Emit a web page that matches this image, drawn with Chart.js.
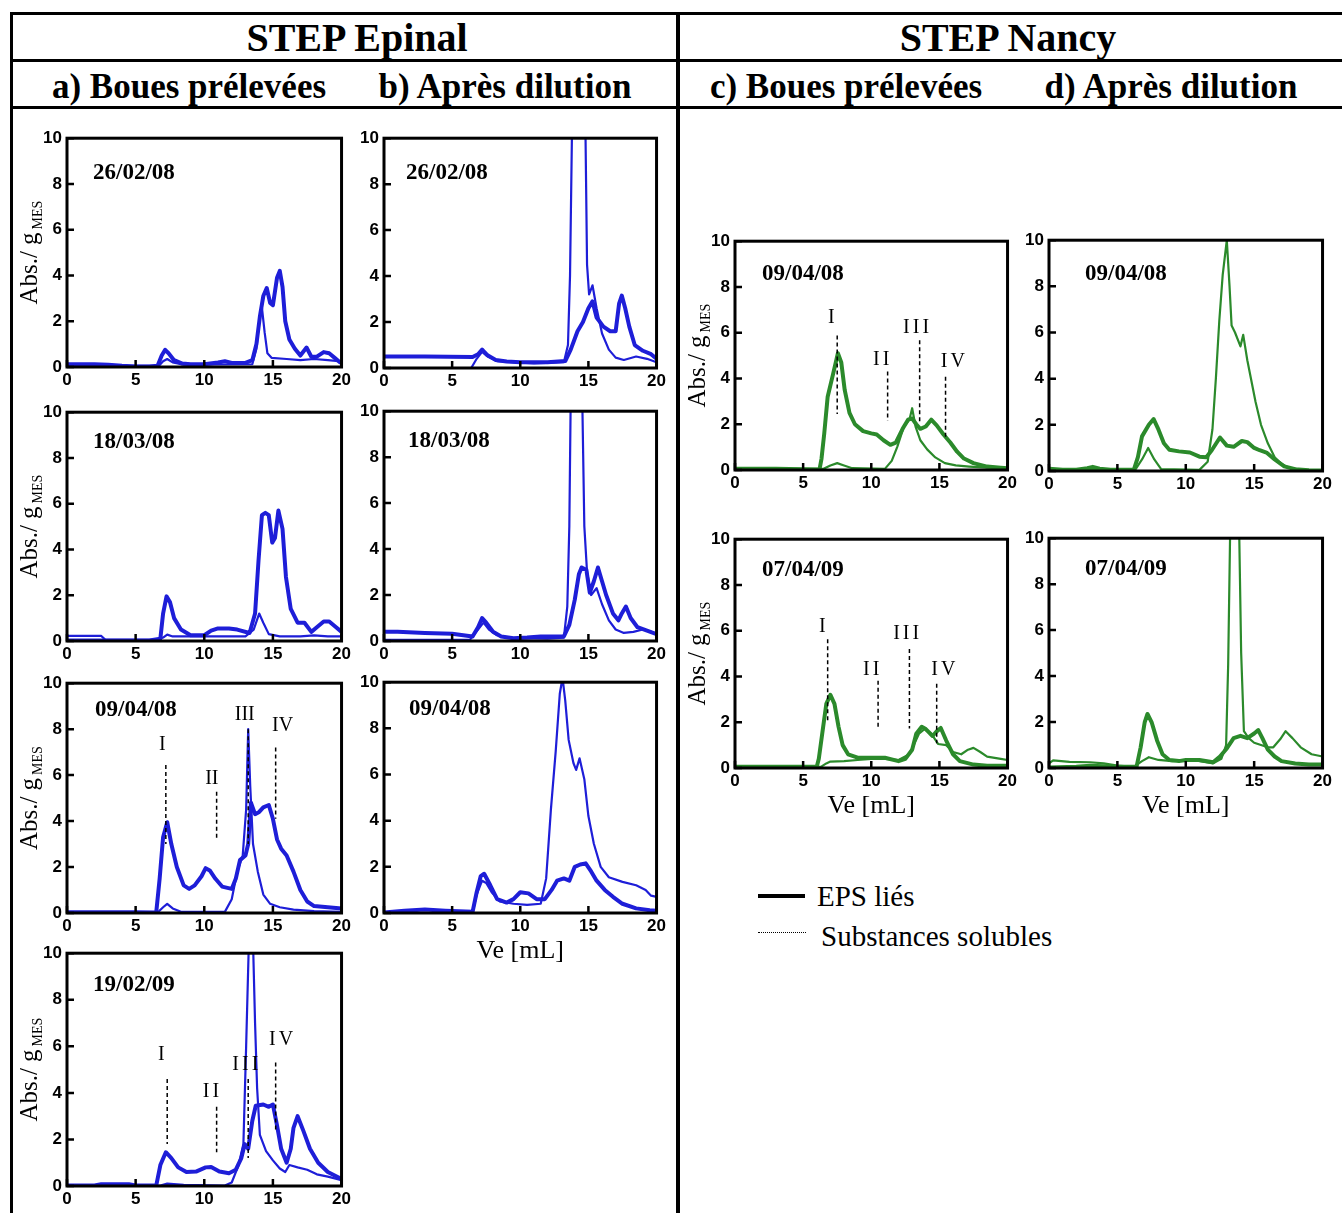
<!DOCTYPE html>
<html>
<head>
<meta charset="utf-8">
<script src="https://cdn.jsdelivr.net/npm/chart.js@4.4.1/dist/chart.umd.min.js"></script>
<style>
  body { margin:0; background:#fff; width:1342px; height:1213px; position:relative; overflow:hidden;
         font-family:'Liberation Serif','Times New Roman',serif; color:#000; }
  .rule { position:absolute; background:#000; }
  .hdr { position:absolute; font-weight:bold; white-space:nowrap; line-height:1; transform:translateX(-50%); }
  .panel { position:absolute; }
  .leg { position:absolute; font-size:29px; line-height:1; white-space:nowrap; }
</style>
</head>
<body>
<div class="rule" style="left:10px;top:12px;width:1332px;height:3px"></div>
<div class="rule" style="left:10px;top:59px;width:1332px;height:3px"></div>
<div class="rule" style="left:10px;top:106px;width:1332px;height:3px"></div>
<div class="rule" style="left:10px;top:12px;width:3px;height:1201px"></div>
<div class="rule" style="left:676px;top:12px;width:4px;height:1201px"></div>

<div class="hdr" style="left:357px;top:18px;font-size:40px">STEP Epinal</div>
<div class="hdr" style="left:1008px;top:18px;font-size:40px">STEP Nancy</div>
<div class="hdr" style="left:189px;top:69px;font-size:35px">a) Boues prélevées</div>
<div class="hdr" style="left:505px;top:69px;font-size:35px">b) Après dilution</div>
<div class="hdr" style="left:846px;top:69px;font-size:35px">c) Boues prélevées</div>
<div class="hdr" style="left:1171px;top:69px;font-size:35px">d) Après dilution</div>

<div class="rule" style="left:758px;top:894px;width:47px;height:4px"></div>
<div class="leg" style="left:817px;top:882px">EPS liés</div>
<div style="position:absolute;left:758px;top:932px;width:48px;border-top:1px dotted #000"></div>
<div class="leg" style="left:821px;top:922px">Substances solubles</div>

<div id="charts"></div>

<script>
// axis ticks
const veTicks = [0, 5, 10, 15, 20];
const absTicks = [0, 2, 4, 6, 8, 10];
const seriesNames = ['EPS liés', 'Substances solubles'];

// STEP Epinal - boues prélevées  [Ve mL, Abs/gMES]
const epiA1Eps = [[0,0.12],[1,0.12],[2,0.12],[3,0.1],[4,0.05],[5,0.02],[6,0.02],[6.6,0.05],[6.9,0.5],[7.15,0.75],[7.4,0.6],[7.8,0.3],[8.4,0.15],[9,0.12],[10,0.12],[11,0.2],[11.5,0.25],[12,0.18],[13,0.18],[13.5,0.3],[13.8,1.0],[14.05,2.2],[14.3,3.1],[14.55,3.45],[14.8,2.8],[15.0,2.7],[15.3,3.9],[15.5,4.2],[15.7,3.5],[15.9,2.0],[16.2,1.2],[16.6,0.8],[17.0,0.5],[17.45,0.85],[17.8,0.45],[18.2,0.45],[18.7,0.65],[19.1,0.6],[19.5,0.4],[19.9,0.2],[20,0.2]];
const epiA1Sol = [[0,0.05],[6.7,0.05],[7.0,0.25],[7.3,0.35],[7.7,0.2],[8.5,0.1],[13.5,0.12],[13.8,0.8],[14.0,2.0],[14.2,2.6],[14.4,1.5],[14.6,0.6],[14.9,0.4],[16,0.35],[17,0.3],[18,0.35],[19,0.3],[20,0.25]];
const epiA2Eps = [[0,0.02],[3,0.02],[6,0.02],[6.8,0.1],[7.0,1.2],[7.25,1.95],[7.5,1.7],[7.8,1.0],[8.3,0.5],[9,0.25],[10,0.25],[10.5,0.45],[11,0.55],[11.8,0.55],[12.4,0.5],[13.3,0.35],[13.7,1.2],[13.95,3.5],[14.2,5.5],[14.45,5.6],[14.7,5.5],[14.95,4.3],[15.15,4.5],[15.4,5.7],[15.7,4.9],[15.95,2.8],[16.3,1.4],[16.8,0.8],[17.3,0.8],[17.8,0.4],[18.2,0.6],[18.7,0.85],[19.1,0.85],[19.6,0.6],[20,0.4]];
const epiA2Sol = [[0,0.22],[2.5,0.22],[2.8,0.05],[6.6,0.05],[7.0,0.15],[7.3,0.28],[7.7,0.2],[9,0.2],[13,0.2],[13.6,0.5],[14.0,1.2],[14.3,0.8],[14.7,0.3],[15.5,0.2],[17,0.2],[18,0.25],[19,0.2],[20,0.2]];
const epiA3Eps = [[0,0.03],[3,0.03],[5,0.03],[6.5,0.02],[6.75,1.5],[7.0,3.3],[7.3,3.95],[7.6,3.0],[8.0,2.0],[8.5,1.2],[8.9,1.05],[9.3,1.2],[9.8,1.6],[10.1,1.95],[10.4,1.85],[10.8,1.5],[11.3,1.15],[12.0,1.05],[12.3,1.5],[12.6,2.3],[13.0,2.5],[13.2,3.0],[13.4,4.8],[13.7,4.3],[14.0,4.4],[14.3,4.6],[14.7,4.7],[15.0,4.1],[15.3,3.2],[15.6,2.8],[16.0,2.5],[16.5,1.8],[17.0,1.0],[17.5,0.5],[18,0.3],[19,0.25],[20,0.2]];
const epiA3Sol = [[0,0.02],[6.6,0.02],[7.0,0.25],[7.3,0.4],[7.7,0.2],[8.3,0.05],[11.5,0.05],[12.0,0.6],[12.4,1.8],[12.8,2.5],[13.05,4.5],[13.2,8.0],[13.35,5.5],[13.55,3.0],[13.9,1.8],[14.3,0.8],[14.8,0.4],[15.5,0.25],[16.5,0.15],[18,0.08],[20,0.05]];
const epiA4Eps = [[0,0.02],[2,0.02],[2.5,0.08],[4.5,0.08],[5,0.02],[6.5,0.02],[6.8,0.9],[7.2,1.45],[7.6,1.2],[8.1,0.8],[8.7,0.6],[9.4,0.62],[10.1,0.8],[10.5,0.82],[11.1,0.62],[11.8,0.55],[12.3,0.7],[12.7,1.2],[12.95,1.8],[13.2,1.6],[13.5,2.8],[13.75,3.45],[14.3,3.5],[14.7,3.4],[15.0,3.5],[15.3,2.6],[15.6,1.6],[16.0,1.0],[16.3,1.6],[16.5,2.5],[16.8,3.0],[17.2,2.4],[17.7,1.6],[18.3,1.0],[19,0.6],[20,0.3]];
const epiA4Sol = [[0,0.02],[6.8,0.02],[7.3,0.1],[8.5,0.05],[11.5,0.02],[12.0,0.15],[12.5,0.9],[12.85,1.8],[13.05,6],[13.25,10.5],[13.55,10.5],[13.7,7],[13.85,4.2],[14.05,2.2],[14.5,1.5],[15.0,1.1],[15.5,0.75],[15.9,0.6],[16.2,0.9],[16.8,0.8],[17.5,0.7],[18.2,0.5],[19,0.4],[20,0.25]];

// STEP Epinal - après dilution
const epiB1Eps = [[0,0.5],[3,0.5],[6.5,0.48],[6.9,0.6],[7.2,0.8],[7.6,0.55],[8.2,0.35],[9,0.28],[10,0.25],[12,0.25],[13.3,0.3],[13.7,0.8],[14.2,1.6],[14.6,2.0],[15.0,2.6],[15.3,2.9],[15.6,2.2],[16.1,1.8],[16.6,1.6],[17.0,1.6],[17.25,2.8],[17.45,3.15],[17.7,2.6],[18.0,1.8],[18.4,1.0],[19.0,0.75],[19.6,0.6],[20,0.4]];
const epiB1Sol = [[0,0.0],[6.4,0.0],[6.8,0.4],[7.2,0.7],[7.6,0.5],[8.3,0.3],[9.5,0.25],[11,0.2],[13.2,0.25],[13.5,1.0],[13.65,4],[13.8,10.5],[14.2,14],[14.6,12],[14.78,10.5],[14.9,4.5],[15.05,3.2],[15.3,3.6],[15.6,2.6],[16.0,1.5],[16.5,0.8],[17.0,0.45],[17.6,0.35],[18.5,0.5],[19.3,0.4],[20,0.25]];
const epiB2Eps = [[0,0.4],[1,0.4],[3,0.35],[5,0.32],[6.5,0.2],[6.9,0.6],[7.2,1.0],[7.5,0.8],[8.0,0.4],[8.6,0.2],[9.5,0.12],[10.5,0.15],[11.5,0.2],[13.2,0.2],[13.6,0.7],[14.0,1.8],[14.3,2.9],[14.5,3.2],[14.85,3.1],[15.1,2.1],[15.4,2.6],[15.7,3.2],[16.0,2.6],[16.3,2.0],[16.8,1.2],[17.2,0.9],[17.45,1.2],[17.75,1.5],[18.1,1.0],[18.6,0.6],[19.3,0.45],[20,0.3]];
const epiB2Sol = [[0,0.05],[6.3,0.05],[6.9,0.5],[7.3,0.8],[7.7,0.5],[8.3,0.25],[9.5,0.12],[12,0.1],[13.2,0.15],[13.45,1.5],[13.6,5],[13.7,10.5],[14.1,14],[14.55,10.5],[14.7,5],[14.9,3.0],[15.2,2.0],[15.6,2.3],[16.0,1.6],[16.5,0.9],[17.0,0.5],[17.6,0.35],[18.3,0.4],[19.0,0.5],[19.6,0.4],[20,0.3]];
const epiB3Eps = [[0,0.02],[1.5,0.1],[3,0.15],[4.5,0.1],[6.5,0.05],[6.8,0.9],[7.1,1.6],[7.35,1.7],[7.8,1.2],[8.3,0.6],[9.0,0.45],[9.5,0.6],[10.0,0.9],[10.6,0.85],[11.2,0.6],[11.8,0.6],[12.3,1.0],[12.7,1.4],[13.2,1.5],[13.6,1.4],[14.0,2.0],[14.4,2.1],[14.8,2.15],[15.2,1.8],[15.6,1.4],[16.2,1.0],[16.8,0.7],[17.5,0.4],[18.5,0.2],[19.5,0.12],[20,0.1]];
const epiB3Sol = [[0,0.0],[6.5,0.0],[6.8,0.8],[7.2,1.4],[7.5,1.3],[7.9,0.9],[8.5,0.5],[9.5,0.4],[10.5,0.35],[11.5,0.4],[11.9,1.5],[12.25,4.5],[12.6,7.0],[12.9,9.5],[13.1,10.2],[13.3,9.2],[13.55,7.5],[13.9,6.5],[14.1,6.2],[14.35,6.7],[14.7,5.8],[15.0,4.2],[15.4,3.0],[15.9,2.0],[16.5,1.55],[17.5,1.35],[18.5,1.2],[19.2,1.0],[19.6,0.75],[20,0.7]];

// STEP Nancy
const nanC1Eps = [[0,0.05],[3,0.05],[5,0.03],[6.2,0.02],[6.35,0.5],[6.55,1.6],[6.8,3.2],[7.2,4.2],[7.55,5.1],[7.8,4.7],[8.05,3.5],[8.4,2.5],[8.8,2.0],[9.4,1.7],[10.0,1.6],[10.4,1.55],[10.9,1.3],[11.4,1.1],[11.8,1.2],[12.3,1.8],[12.7,2.2],[13.0,2.25],[13.3,2.0],[13.6,1.8],[14.0,1.9],[14.4,2.2],[14.8,1.95],[15.3,1.55],[15.8,1.2],[16.3,0.8],[16.8,0.5],[17.5,0.3],[18.5,0.15],[19.5,0.1],[20,0.08]];
const nanC1Sol = [[0,0.05],[6.5,0.05],[7.0,0.2],[7.5,0.3],[8.0,0.2],[8.6,0.08],[11.0,0.05],[11.5,0.4],[11.9,1.0],[12.4,1.9],[12.8,2.2],[13.0,2.7],[13.25,1.9],[13.6,1.3],[14.1,0.9],[14.7,0.55],[15.4,0.3],[16.2,0.2],[17.2,0.15],[18.5,0.1],[20,0.08]];
const nanC2Eps = [[0,0.05],[3,0.05],[6.0,0.05],[6.15,0.4],[6.4,1.5],[6.7,2.8],[7.0,3.2],[7.3,2.8],[7.6,1.8],[7.9,1.0],[8.3,0.6],[9.0,0.45],[10,0.45],[11,0.45],[12,0.3],[12.5,0.4],[13.0,0.8],[13.3,1.5],[13.7,1.8],[14.0,1.7],[14.5,1.4],[14.8,1.6],[15.1,1.75],[15.5,1.2],[16.0,0.6],[16.5,0.3],[17.5,0.15],[18.5,0.1],[20,0.1]];
const nanC2Sol = [[0,0.05],[6.3,0.05],[6.7,0.2],[7.0,0.28],[8,0.3],[9,0.35],[10,0.4],[11,0.4],[12,0.35],[12.8,0.6],[13.5,1.5],[13.9,1.7],[14.4,1.5],[14.9,1.05],[15.5,1.0],[16.0,0.7],[16.6,0.6],[17.1,0.8],[17.5,0.88],[18.0,0.7],[18.5,0.5],[19.5,0.4],[20,0.35]];
const nanD1Eps = [[0,0.1],[1,0.05],[2,0.05],[2.8,0.12],[3.2,0.18],[3.7,0.1],[4.5,0.05],[6.2,0.05],[6.5,0.6],[6.8,1.5],[7.3,2.0],[7.65,2.25],[8.0,1.8],[8.4,1.2],[8.8,0.92],[9.5,0.85],[10.3,0.8],[11.0,0.62],[11.5,0.6],[11.9,0.9],[12.5,1.45],[13.0,1.1],[13.5,1.05],[14.1,1.3],[14.5,1.25],[15.0,1.0],[15.4,0.9],[15.9,0.8],[16.5,0.5],[17.2,0.2],[18,0.08],[19,0.03],[20,0.02]];
const nanD1Sol = [[0,0.05],[6.3,0.05],[6.8,0.5],[7.25,1.0],[7.7,0.5],[8.2,0.08],[11.0,0.05],[11.6,0.4],[11.95,1.8],[12.2,4.0],[12.45,6.5],[12.7,8.5],[13.0,10.0],[13.2,8.0],[13.35,6.3],[13.6,6.0],[14.0,5.4],[14.2,5.9],[14.5,4.8],[15.1,3.0],[15.5,2.0],[16.0,1.2],[16.5,0.6],[17.0,0.3],[17.5,0.15],[18.5,0.05],[20,0.02]];
const nanD2Eps = [[0,0.02],[2,0.05],[3,0.1],[5,0.05],[6.4,0.05],[6.7,0.9],[7.0,2.0],[7.2,2.35],[7.5,2.0],[7.9,1.2],[8.3,0.6],[8.8,0.35],[9.5,0.3],[10.0,0.35],[11.0,0.35],[12.0,0.25],[12.5,0.5],[13.0,0.85],[13.5,1.3],[14.0,1.4],[14.5,1.3],[15.0,1.5],[15.3,1.65],[15.6,1.3],[16.0,0.8],[16.5,0.5],[17.0,0.3],[18,0.2],[19,0.15],[20,0.15]];
const nanD2Sol = [[0,0.2],[0.3,0.33],[1.5,0.27],[3,0.25],[4,0.2],[5,0.1],[6.2,0.05],[6.8,0.3],[7.3,0.47],[8.0,0.35],[9.0,0.3],[10.5,0.35],[12.0,0.2],[12.6,0.4],[12.95,1.0],[13.1,4.5],[13.25,10.5],[13.6,13],[13.9,10.5],[14.05,5],[14.25,1.6],[14.6,1.3],[15.0,1.1],[15.5,1.0],[16.0,0.9],[16.4,0.9],[16.9,1.25],[17.3,1.6],[17.8,1.3],[18.4,0.9],[19.2,0.6],[20,0.5]];

// peak markers: label, line x, line top, line bottom, label x, label y (data units)
const peaksA3 = [['I',7.2,6.44,3.0,6.95,7.34],['II',10.9,5.28,3.2,10.55,5.84],['III',13.2,8.0,3.0,12.95,8.63],['IV',15.2,7.2,4.1,15.7,8.15]];
const peaksA4 = [['I',7.3,4.6,1.8,6.98,5.64],['II',10.9,3.4,1.45,10.6,4.07],['III',13.2,4.6,1.2,13.1,5.2],['IV',15.2,5.3,2.3,15.7,6.3]];
const peaksC1 = [['I',7.5,5.88,2.45,7.18,6.65],['II',11.2,4.3,2.15,10.84,4.8],['III',13.55,5.67,2.06,13.4,6.22],['IV',15.45,4.08,1.37,16.1,4.72]];
const peaksC2 = [['I',6.8,5.63,2.08,6.52,6.16],['II',10.5,3.81,1.73,10.1,4.31],['III',12.8,5.2,1.73,12.67,5.86],['IV',14.8,3.68,1.08,15.4,4.31]];

const blue = '#1e1ed8', green = '#2b8a2b';
const serif = "'Liberation Serif','Times New Roman',serif";

// plot boxes: [left, top, right, bottom] of each chart area on the page
const panels = [
  {date:'26/02/08', eps:epiA1Eps, sol:epiA1Sol, color:blue, box:[67,135,342,367], dateAt:[26,35], yTitle:true},
  {date:'18/03/08', eps:epiA2Eps, sol:epiA2Sol, color:blue, box:[67,409,342,641], dateAt:[26,30], yTitle:true},
  {date:'09/04/08', eps:epiA3Eps, sol:epiA3Sol, color:blue, box:[67,680,342,913], dateAt:[28,27], yTitle:true, marks:peaksA3, spacing:0},
  {date:'19/02/09', eps:epiA4Eps, sol:epiA4Sol, color:blue, box:[67,950,342,1186], dateAt:[26,32], yTitle:true, marks:peaksA4, spacing:3},
  {date:'26/02/08', eps:epiB1Eps, sol:epiB1Sol, color:blue, box:[384,135,657,368], dateAt:[22,35]},
  {date:'18/03/08', eps:epiB2Eps, sol:epiB2Sol, color:blue, box:[384,408,657,641], dateAt:[24,30]},
  {date:'09/04/08', eps:epiB3Eps, sol:epiB3Sol, color:blue, box:[384,679,657,913], dateAt:[25,27], xTitle:true},
  {date:'09/04/08', eps:nanC1Eps, sol:nanC1Sol, color:green, box:[735,238,1008,470], dateAt:[27,33], yTitle:true, marks:peaksC1, spacing:3},
  {date:'07/04/09', eps:nanC2Eps, sol:nanC2Sol, color:green, box:[735,536,1008,768], dateAt:[27,31], yTitle:true, xTitle:true, marks:peaksC2, spacing:3},
  {date:'09/04/08', eps:nanD1Eps, sol:nanD1Sol, color:green, box:[1049,237,1323,471], dateAt:[36,34]},
  {date:'07/04/09', eps:nanD2Eps, sol:nanD2Sol, color:green, box:[1049,535,1323,768], dateAt:[36,31], xTitle:true}
];

const padL = 55, padT = 12, padR = 12;

// frame, inward ticks, date, peak marks, y title
const decor = {
  id: 'decor',
  afterDatasetsDraw(chart) {
    const p = chart.options.plugins.decor.panel;
    const {ctx, chartArea: a, scales: {x, y}} = chart;
    ctx.save();
    ctx.strokeStyle = '#000';
    ctx.fillStyle = '#000';
    ctx.lineWidth = 3;
    ctx.strokeRect(a.left, a.top, a.right - a.left, a.bottom - a.top);
    ctx.lineWidth = 2.5;
    ctx.beginPath();
    absTicks.forEach(v => { const py = y.getPixelForValue(v); ctx.moveTo(a.left, py); ctx.lineTo(a.left + 7, py); });
    veTicks.forEach(v => { const px = x.getPixelForValue(v); ctx.moveTo(px, a.bottom); ctx.lineTo(px, a.bottom - 7); });
    ctx.stroke();

    ctx.font = 'bold 23px ' + serif;
    ctx.textBaseline = 'middle';
    ctx.textAlign = 'left';
    ctx.fillText(p.date, a.left + p.dateAt[0], a.top + p.dateAt[1]);

    if (p.marks) {
      ctx.font = '20px ' + serif;
      ctx.letterSpacing = (p.spacing || 0) + 'px';
      ctx.textAlign = 'center';
      ctx.lineWidth = 1.5;
      ctx.setLineDash([4, 3]);
      p.marks.forEach(m => {
        ctx.fillText(m[0], x.getPixelForValue(m[4]), y.getPixelForValue(m[5]));
        ctx.beginPath();
        ctx.moveTo(x.getPixelForValue(m[1]), y.getPixelForValue(m[2]));
        ctx.lineTo(x.getPixelForValue(m[1]), y.getPixelForValue(m[3]));
        ctx.stroke();
      });
      ctx.setLineDash([]);
      ctx.letterSpacing = '0px';
    }

    if (p.yTitle) {
      ctx.translate(a.left - 30, (a.top + a.bottom) / 2);
      ctx.rotate(-Math.PI / 2);
      ctx.textAlign = 'left';
      ctx.textBaseline = 'alphabetic';
      ctx.font = '25px ' + serif;
      const w1 = ctx.measureText('Abs./ g').width;
      ctx.font = '14px ' + serif;
      const w2 = ctx.measureText('MES').width;
      const s = -(w1 + 3 + w2) / 2;
      ctx.font = '25px ' + serif;
      ctx.fillText('Abs./ g', s, 0);
      ctx.font = '14px ' + serif;
      ctx.fillText('MES', s + w1 + 3, 5);
    }
    ctx.restore();
  }
};

const tickFont = {family: "'Liberation Sans', Arial, sans-serif", weight: 'bold', size: 17};

panels.forEach((p, i) => {
  const [l, t, r, b] = p.box;
  const xh = p.xTitle ? 60 : 30;
  const div = document.createElement('div');
  div.className = 'panel';
  div.style.left = (l - padL) + 'px';
  div.style.top = (t - padT) + 'px';
  div.style.width = (r - l + padL + padR) + 'px';
  div.style.height = (b - t + padT + xh) + 'px';
  const cv = document.createElement('canvas');
  div.appendChild(cv);
  document.getElementById('charts').appendChild(div);

  new Chart(cv, {
    type: 'line',
    data: {
      datasets: [
        {label: seriesNames[1], data: p.sol.map(d => ({x: d[0], y: d[1]})), borderColor: p.color, borderWidth: 2.2},
        {label: seriesNames[0], data: p.eps.map(d => ({x: d[0], y: d[1]})), borderColor: p.color, borderWidth: 4}
      ]
    },
    options: {
      responsive: true,
      maintainAspectRatio: false,
      animation: false,
      layout: {padding: {left: 0, top: padT, right: padR, bottom: 0}},
      elements: {point: {radius: 0}, line: {tension: 0, borderJoinStyle: 'round'}},
      plugins: {legend: {display: false}, tooltip: {enabled: false}, decor: {panel: p}},
      scales: {
        x: {
          type: 'linear', min: 0, max: 20,
          grid: {display: false, drawTicks: false}, border: {display: false},
          afterBuildTicks: s => { s.ticks = veTicks.map(v => ({value: v})); },
          afterFit: s => { s.height = xh; },
          ticks: {font: tickFont, color: '#000', padding: 3, maxRotation: 0, autoSkip: false},
          title: {display: !!p.xTitle, text: 'Ve [mL]', color: '#000', font: {family: serif, size: 26}, padding: {top: 0, bottom: 6}}
        },
        y: {
          min: 0, max: 10,
          grid: {display: false, drawTicks: false}, border: {display: false},
          afterBuildTicks: s => { s.ticks = absTicks.map(v => ({value: v})); },
          afterFit: s => { s.width = padL; },
          ticks: {font: tickFont, color: '#000', padding: 5}
        }
      }
    },
    plugins: [decor]
  });
});
</script>
</body>
</html>
